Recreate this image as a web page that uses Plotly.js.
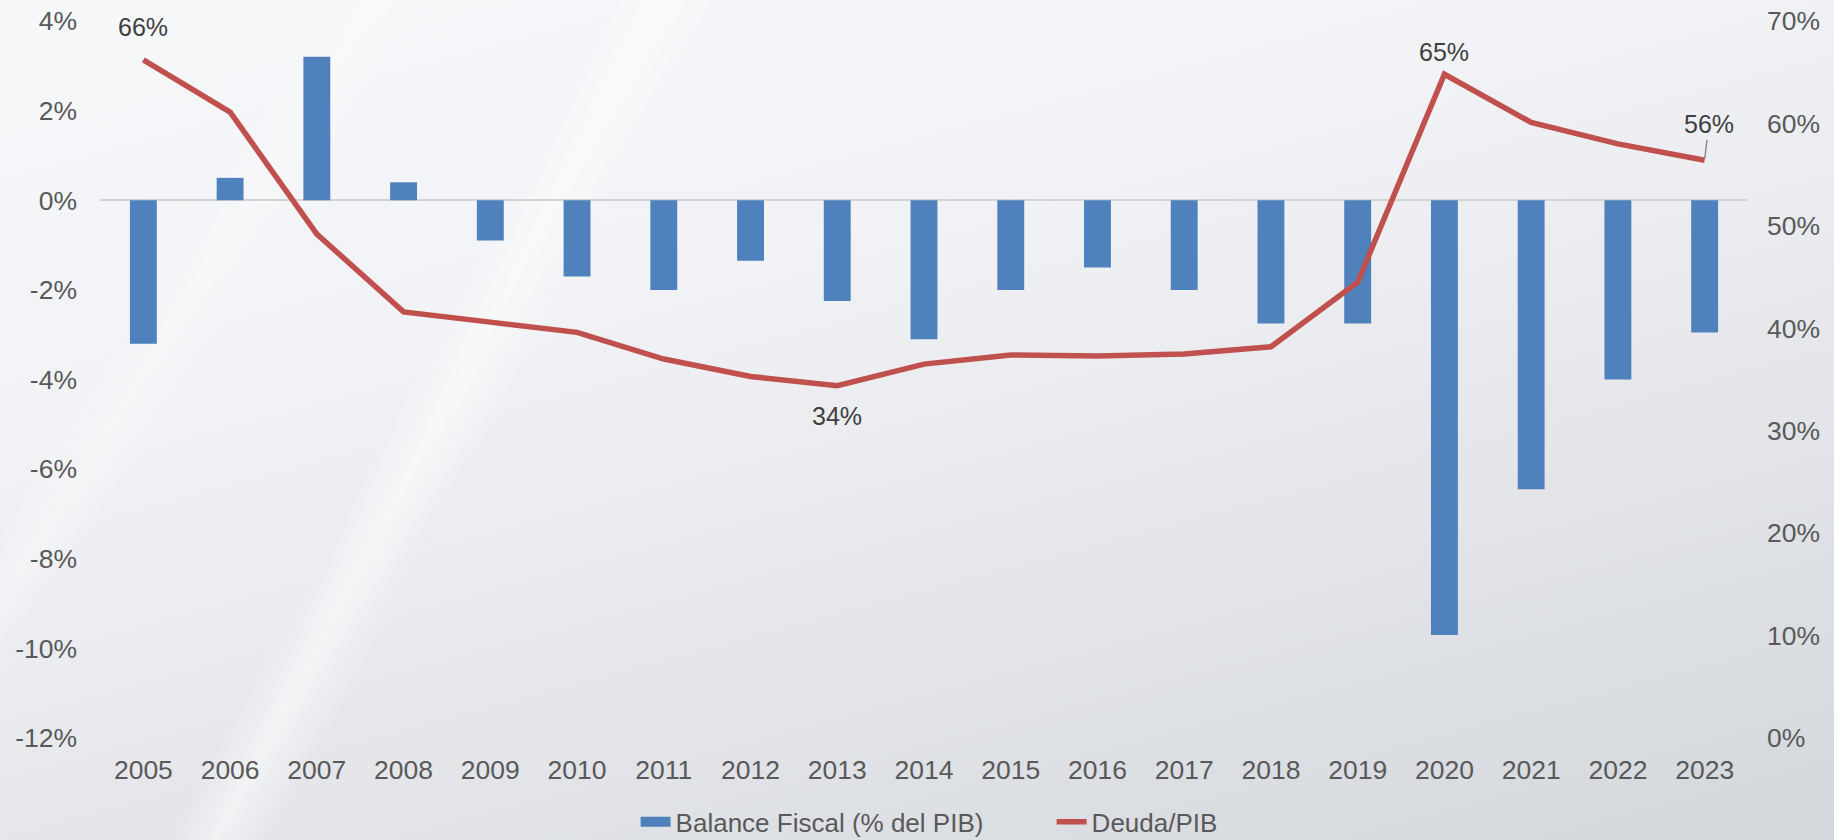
<!DOCTYPE html>
<html>
<head>
<meta charset="utf-8">
<script src="https://cdn.plot.ly/plotly-3.0.1.min.js"></script>
<style>
  html, body { margin: 0; padding: 0; width: 1834px; height: 840px; overflow: hidden; }
  body {
    background:
      radial-gradient(ellipse 1500px 800px at 1900px 1350px, rgba(255,255,255,0) 58%, rgba(255,255,255,0.5) 60%, rgba(255,255,255,0) 63%),
      linear-gradient(118deg, rgba(255,255,255,0) 27%, rgba(255,255,255,0.5) 29%, rgba(255,255,255,0) 31.5%),
      linear-gradient(122deg, rgba(255,255,255,0) 14%, rgba(255,255,255,0.3) 16%, rgba(255,255,255,0) 18%),
      linear-gradient(165deg, #f7f8fa 0%, #f1f2f5 35%, #e4e6ea 65%, #d3d6db 100%);
  }
  #chart { width: 1834px; height: 840px; }
</style>
</head>
<body>
<div id="chart"></div>
<script>
const years = ['2005','2006','2007','2008','2009','2010','2011','2012','2013','2014','2015','2016','2017','2018','2019','2020','2021','2022','2023'];
const balanceFiscal = [-3.2, 0.5, 3.2, 0.4, -0.9, -1.7, -2.0, -1.35, -2.25, -3.1, -2.0, -1.5, -2.0, -2.75, -2.75, -9.7, -6.45, -4.0, -2.95];
const deudaPIB = [66.2, 61.1, 49.2, 41.6, 40.6, 39.6, 37.0, 35.3, 34.4, 36.5, 37.4, 37.3, 37.5, 38.2, 44.5, 64.8, 60.1, 58.0, 56.4];
const leftTicks = [4, 2, 0, -2, -4, -6, -8, -10, -12];
const leftTickText = ['4%', '2%', '0%', '-2%', '-4%', '-6%', '-8%', '-10%', '-12%'];
const rightTicks = [0, 10, 20, 30, 40, 50, 60, 70];
const rightTickText = ['0%', '10%', '20%', '30%', '40%', '50%', '60%', '70%'];
const seriesNames = ['Balance Fiscal (% del PIB)', 'Deuda/PIB'];
const labelled = [
  {i: 0, text: '66%', ax: 0, ay: -33, arrow: false},
  {i: 8, text: '34%', ax: 0, ay: 30, arrow: false},
  {i: 15, text: '65%', ax: 0, ay: -22, arrow: false},
  {i: 18, text: '56%', ax: 4, ay: -36, arrow: true}
];

const FONT = 'Liberation Sans, Arial, Helvetica, sans-serif';
const TXT = '#595959';
const BLUE = '#4f81bd';
const RED = '#c0504d';

const traces = [
  {
    type: 'bar', x: years, y: balanceFiscal, name: seriesNames[0], showlegend: false,
    marker: {color: BLUE, line: {width: 0}}, yaxis: 'y'
  },
  {
    type: 'scatter', mode: 'lines', x: [null], y: [null], name: seriesNames[0],
    line: {color: BLUE, width: 13}, yaxis: 'y', legendrank: 1
  },
  {
    type: 'scatter', mode: 'lines', x: years, y: deudaPIB, name: seriesNames[1],
    line: {color: RED, width: 5.5}, yaxis: 'y2', legendrank: 2
  }
];

const annotations = labelled.map(l => ({
  x: l.i, y: deudaPIB[l.i], xref: 'x', yref: 'y2',
  text: l.text, showarrow: true, arrowhead: 0, arrowwidth: l.arrow ? 1.5 : 0.1,
  arrowcolor: l.arrow ? '#8c8c8c' : 'rgba(0,0,0,0)',
  ax: l.ax, ay: l.ay, standoff: l.arrow ? 2 : 0,
  font: {family: FONT, size: 25, color: '#404040'}
}));

const layout = {
  width: 1834, height: 840,
  margin: {l: 100, r: 86, t: 21, b: 102, autoexpand: false},
  paper_bgcolor: 'rgba(0,0,0,0)',
  plot_bgcolor: 'rgba(0,0,0,0)',
  bargap: 0.69,
  showlegend: true,
  legend: {
    orientation: 'h', x: 0.325, xanchor: 'left', y: -0.117, yanchor: 'middle',
    font: {family: FONT, size: 26, color: TXT}, entrywidth: 371, entrywidthmode: 'pixels',
    bgcolor: 'rgba(0,0,0,0)', traceorder: 'normal'
  },
  xaxis: {
    type: 'category', range: [-0.5, years.length - 0.5], autorange: false,
    showgrid: false, showline: false, zeroline: false, ticks: '',
    tickfont: {family: FONT, size: 26.5, color: TXT}, ticklabelstandoff: 13
  },
  yaxis: {
    range: [-12, 4], autorange: false, tickvals: leftTicks, ticktext: leftTickText,
    showgrid: false, showline: false, zeroline: true, zerolinecolor: '#d4d4d4', zerolinewidth: 2,
    ticks: '', tickfont: {family: FONT, size: 26.5, color: TXT}, ticklabelstandoff: 22
  },
  yaxis2: {
    range: [0, 70], autorange: false, tickvals: rightTicks, ticktext: rightTickText, overlaying: 'y', side: 'right',
    showgrid: false, showline: false, zeroline: false, ticks: '',
    tickfont: {family: FONT, size: 26.5, color: TXT}, ticklabelstandoff: 18
  },
  annotations: annotations
};

Plotly.newPlot('chart', traces, layout, {displayModeBar: false, staticPlot: true});
</script>
</body>
</html>
